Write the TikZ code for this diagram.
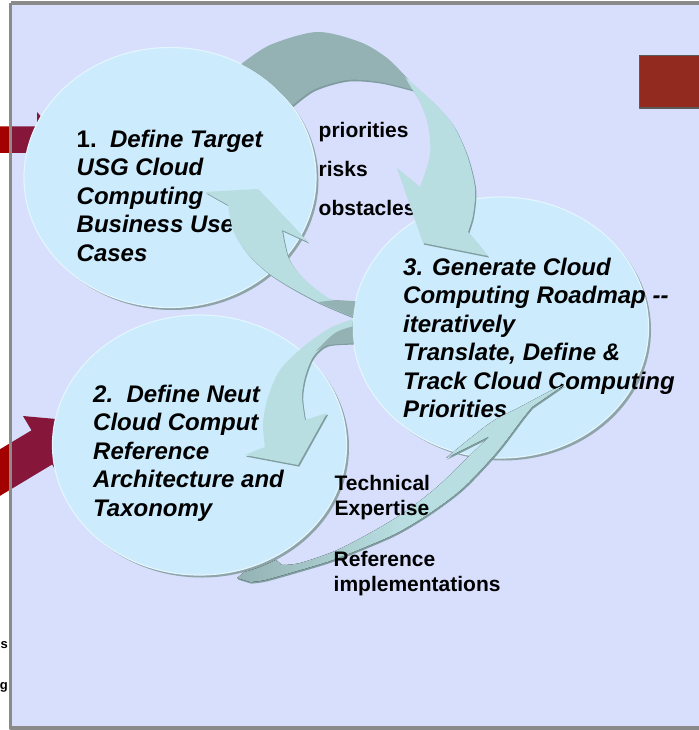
\documentclass[tikz,border=0pt]{standalone}
\usepackage{fontspec}
\setmainfont{Liberation Sans}
\definecolor{lav}{HTML}{D7DFFC}
\definecolor{framec}{HTML}{8A8A8A}
\definecolor{crimson}{HTML}{86163A}
\definecolor{redout}{HTML}{A30000}
\definecolor{rrect}{HTML}{932A1F}
\definecolor{rrectb}{HTML}{5A5A5A}
\definecolor{bubfill}{HTML}{CCEBFC}
\definecolor{bubrim}{HTML}{E3F5FE}
\definecolor{bubshade}{HTML}{8FA4A9}
\definecolor{arlight}{HTML}{B8DEE1}
\definecolor{ardark}{HTML}{94B2B3}
\definecolor{arshade}{HTML}{7F9C9F}
\newcommand\mybubble[2]{%
  \fill[bubshadow,shift={(2.5,2.5)}] #1 ellipse (#2);
  \filldraw[bubble] #1 ellipse (#2);}
% clip to the outside of an ellipse and of its shadow (#1 centre, #2 shadow centre, #3 radii)
\newcommand\outsideof[3]{%
  \clip #1 ellipse (#3) [revclip];
  \clip #2 ellipse (#3) [revclip];}
\newcommand\redA{(-5,126.5) -- (37,126.5) -- (37,112) -- (62,140) -- (37,168) -- (37,153) -- (-5,153) -- cycle}
\newcommand\redB{(-36,470.9) -- (31.5,430.3) -- (23.0,416.0) -- (84.7,421.6) -- (60.6,478.8) -- (52.1,464.5) -- (-15.4,505.1) -- cycle}
\newcommand\pathTdark{(225,80) -- plot[smooth] coordinates {(240,65) (270,45) (317,32) (360,42) (387,58) (407,78)} -- plot[smooth] coordinates {(413,90) (380,82) (347,80) (313,90) (287,110)} -- (270,125) -- cycle}
\newcommand\pathTlight{plot[smooth] coordinates {(405,77) (433,102) (453,125) (467,155) (475,188) (473,215) (468,232)} -- (488,256) -- (423,243) -- (397,168) -- plot[smooth] coordinates {(420,187) (430,155) (428,125) (420,102) (412,89)} -- cycle}
\newcommand\pathMone{(205,192) -- (258,189) -- (308,242) -- plot[smooth] coordinates {(282,230) (288,257) (300,275) (317,290) (333,300) (355,303) (370,303)} -- (370,319) -- plot[smooth] coordinates {(353,317) (320,303) (290,287) (267,272) (247,253) (233,230) (228,205)} -- cycle}
\newcommand\pathMonedark{(318,302) -- (336,300) -- (370,302) -- (370,319) -- (353,317) -- cycle}
\newcommand\pathMtwo{plot[smooth] coordinates {(370,318) (354,319) (330,328) (303,347) (280,370) (268,397) (263,423) (265,447)} -- (245,455) -- (298,465) -- (327,413) -- plot[smooth] coordinates {(305,420) (302,397) (305,377) (313,357) (327,345) (355,343) (370,344)} -- cycle}
\newcommand\pathMtwodark{plot[smooth] coordinates {(370,326) (355,326) (335,333) (316,351)} -- plot[smooth] coordinates {(327,345) (355,343) (370,344)} -- cycle}
\newcommand\pathB{(237,578) -- plot[smooth] coordinates {(250,582) (265,580) (297,571) (330,561) (363,548) (397,533) (430,513) (463,488) (497,452) (523,418) (532,407)} -- (564,385) -- plot[smooth] coordinates {(550,391) (520,407) (490,423) (446,458)} -- (490,436) -- plot[smooth] coordinates {(463,462) (437,487) (405,512) (370,533) (335,551) (300,563) (282,565)} -- (268,553) -- cycle}
\begin{document}
\begin{tikzpicture}[x=1pt,y=-1pt,line join=round,
  revclip/.style={insert path={(-60,-60) -- (-60,800) -- (800,800) -- (800,-60) -- cycle}},
  bubshadow/.style={fill=bubshade},
  bubble/.style={fill=bubfill,draw=bubrim,line width=1.2pt},
  arrlight/.style={fill=arlight},
  arrdark/.style={fill=ardark},
  arrshadow/.style={fill=arshade,shift={(1.2,1.6)}},
  ctext/.style={anchor=north west,inner sep=0pt,align=left,text=black,
    font=\fontsize{24}{28.5}\selectfont\bfseries\itshape},
  ltext/.style={anchor=north west,inner sep=0pt,align=left,text=black,
    font=\fontsize{21}{24.6}\selectfont\bfseries},
  lone/.style={anchor=base west,inner sep=0pt,text=black,
    font=\fontsize{21}{24.6}\selectfont\bfseries},
  frag/.style={anchor=base east,inner sep=0pt,text=black,font=\fontsize{13}{13}\selectfont\bfseries}]
\useasboundingbox (0,0) rectangle (698,730);
\fill[white] (0,0) rectangle (698,730);
\fill[lav] (10.5,3) rectangle (710,728);
% red arrows coming from the left
\begin{scope}
  \clip (10.5,3) rectangle (710,728);
  \fill[crimson] \redA;
  \fill[crimson] \redB;
\end{scope}
\begin{scope}
  \clip (0,0) rectangle (10.5,730);
  \fill[redout] \redA;
  \fill[redout] \redB;
\end{scope}
% text fragments at the lower left
\node[frag] (fs) at (8,648) {s};
\node[frag] (fg) at (8,689) {g};
% frame
\draw[framec,line width=3.5pt] (10.5,3) -- (710,3) (10.5,3) -- (10.5,728) -- (710,728);
\filldraw[fill=rrect,draw=rrectb,line width=1.5pt] (639.5,55.5) rectangle (710,108);
% the three bubbles
\mybubble{(500.5,327.5)}{148 and 130.5}
\mybubble{(170,177.5)}{146 and 130}
\mybubble{(199.5,445)}{147 and 130}
% bubble texts
\node[ctext] (c1) at (76.5,129.5) {{\upshape 1.}~~Define Target\\USG Cloud\\Computing\\Business Use\\Cases};
\node[ctext] (c2) at (93,384.5) {2.~~Define Neut\\Cloud Comput\\Reference\\Architecture and\\Taxonomy};
\node[ctext] (c3) at (403,257.5) {3. Generate Cloud\\Computing Roadmap -{}-\\iteratively\\Translate, Define \&\\Track Cloud Computing\\Priorities};
% labels under the top arrow
\node[lone] (pri) at (318.5,138) {priorities};
\node[lone] (risk) at (318.5,177) {risks};
\node[lone] (obs) at (318.5,215) {obstacles};
% top arrow from 1 to 3 (tail hidden by bubble 1)
\begin{scope}
  \outsideof{(170,177.5)}{(172.5,180)}{146 and 130}
  \fill[arrshadow] \pathTdark;
  \fill[arrshadow] \pathTlight;
  \fill[arrdark] \pathTdark;
  \fill[arrlight] \pathTlight;
\end{scope}
% arrows from 3 to 1 and from 3 to 2 (tails hidden by bubble 3)
\begin{scope}
  \outsideof{(500.5,327.5)}{(503,330)}{148 and 130.5}
  \fill[arrshadow] \pathMone;
  \fill[arrlight] \pathMone;
  \fill[arrdark] \pathMonedark;
  \fill[arrshadow] \pathMtwo;
  \fill[arrlight] \pathMtwo;
  \fill[arrdark] \pathMtwodark;
\end{scope}
% arrow from 2 to 3 (tail hidden by bubble 2)
\begin{scope}
  \outsideof{(199.5,445)}{(202,447.5)}{147 and 130}
  \fill[arrshadow] \pathB;
  \fill[left color=ardark,right color=arlight,middle color=arlight] \pathB;
\end{scope}
% labels over the bottom arrow
\node[ltext] (tech) at (334.5,475.4) {Technical\\Expertise};
\node[ltext] (refimp) at (333.5,551.4) {Reference\\implementations};
\end{tikzpicture}
\end{document}
